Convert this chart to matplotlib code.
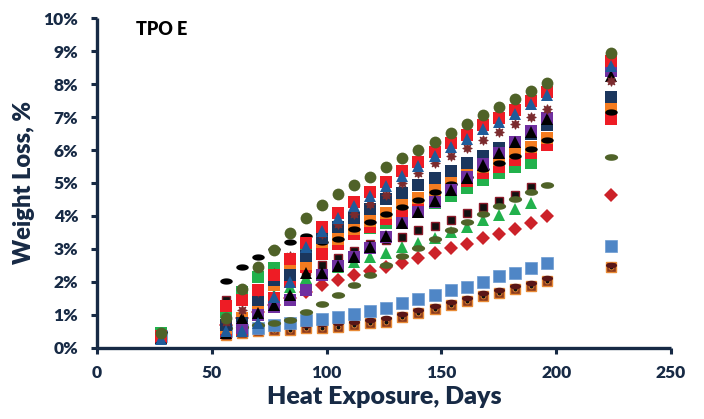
import numpy as np
import matplotlib
matplotlib.use("Agg")
import matplotlib.pyplot as plt
from matplotlib.path import Path

nan = np.nan
days = [28, 56, 63, 70, 77, 84, 91, 98, 105, 112, 119, 126, 133, 140, 147,
        154, 161, 168, 175, 182, 189, 196, 224]

olive_circle = [0.45, 0.90, 1.78, 2.46, 2.97, 3.47, 3.93, 4.33, 4.68, 4.94, 5.19, 5.48, 5.75, 6.00, 6.25, 6.52, 6.79, 7.05, 7.29, 7.54, 7.78, 8.04, 8.95]
red_sq = [0.35, 1.27, 1.45, 1.75, 2.20, 2.70, 3.17, 3.68, 4.08, 4.43, 4.74, 5.04, 5.35, 5.65, 5.95, 6.20, 6.45, 6.76, 6.97, 7.20, 7.50, 7.77, 8.70]
blue_tri = [0.28, 0.50, 0.50, 0.75, 1.53, 2.00, 3.05, 3.55, 3.95, 4.30, 4.62, 4.92, 5.22, 5.52, 5.82, 6.08, 6.33, 6.64, 6.86, 7.08, 7.38, 7.66, 8.55]
maroon_star = [nan, 0.80, 1.15, 1.70, 2.26, 2.80, 3.10, 3.45, 3.75, 4.05, 4.35, 4.65, 5.00, 5.30, 5.60, 5.82, 6.05, 6.30, 6.56, 6.79, 7.00, 7.24, 8.10]
navy_sq = [0.35, 0.70, 0.75, 1.45, 2.06, 2.20, 2.80, 3.32, 3.68, 3.95, 4.20, 4.50, 4.70, 4.95, 5.15, 5.37, 5.60, 5.82, 6.05, 6.25, 6.50, 6.76, 7.60]
orange_sq = [nan, 0.60, 0.90, 1.20, 1.90, 2.36, 2.56, 3.22, 3.30, 3.60, 3.85, 4.10, 4.35, 4.55, 4.80, 5.04, 5.25, 5.50, 5.70, 5.90, 6.10, 6.36, 7.30]
black_oval = [0.48, 2.04, 2.46, 2.75, 3.00, 3.22, 3.40, 3.20, 3.30, 3.60, 3.82, 4.05, 4.28, 4.48, 4.72, 4.98, 5.18, 5.42, 5.62, 5.82, 6.02, 6.30, 7.15]
red_sq2 = [0.30, 0.45, 0.50, 1.10, 1.50, 2.00, 2.45, 2.85, 3.15, 3.45, 3.68, 3.92, 4.15, 4.38, 4.60, 4.85, 5.05, 5.30, 5.50, 5.70, 5.90, 6.15, 6.95]
purple_sq = [nan, nan, 0.60, 1.00, 1.25, 1.45, 1.76, 2.20, 2.47, 2.75, 3.02, 3.37, 3.80, 4.12, 4.43, 4.79, 5.19, 5.58, 5.92, 6.25, 6.57, 6.98, 8.40]
black_tri = [0.30, 0.45, 0.90, 1.05, 1.30, 1.60, 2.26, 2.26, 2.47, 2.75, 3.05, 3.40, 3.80, 4.12, 4.45, 4.80, 5.15, 5.55, 5.90, 6.25, 6.55, 6.95, 8.25]
green_sq = [0.45, 1.10, 1.70, 2.16, 2.41, 2.60, 2.85, 3.10, 3.30, 3.50, 3.65, 3.78, 4.03, 4.20, 4.40, 4.60, 4.84, 5.09, 5.29, 5.50, 5.60, nan, nan]
olive_dash = [nan, 0.60, 0.65, 0.70, 0.75, 0.85, 1.08, 1.33, 1.60, 1.90, 2.20, 2.50, 2.79, 3.04, 3.30, 3.58, 3.81, 4.06, 4.29, 4.50, 4.74, 4.94, 5.80]
black_sq = [nan, 1.45, 1.55, 1.70, 1.90, 2.10, 2.34, 2.50, 2.72, 2.95, 3.15, 3.28, 3.37, 3.58, 3.70, 3.88, 4.08, 4.28, 4.44, 4.64, 4.87, nan, nan]
green_tri = [nan, 0.80, 1.00, 1.30, 1.60, 1.86, 2.12, 2.30, 2.45, 2.60, 2.75, 2.87, 3.05, 3.17, 3.32, 3.50, 3.66, 3.88, 4.03, 4.20, 4.38, nan, nan]
red_dia = [nan, 0.70, 0.90, 1.10, 1.30, 1.50, 1.70, 1.90, 2.06, 2.20, 2.32, 2.45, 2.58, 2.72, 2.87, 3.02, 3.15, 3.32, 3.46, 3.60, 3.78, 3.99, 4.65]
lblue_sq = [0.35, 0.50, 0.55, 0.60, 0.70, 0.75, 0.85, 0.88, 0.95, 1.03, 1.13, 1.22, 1.35, 1.47, 1.60, 1.76, 1.86, 2.00, 2.17, 2.26, 2.41, 2.57, 3.10]
brown_sq = [nan, 0.40, 0.45, 0.50, 0.55, 0.55, 0.60, 0.62, 0.65, 0.70, 0.75, 0.80, 0.93, 1.05, 1.17, 1.30, 1.43, 1.58, 1.68, 1.78, 1.88, 2.04, 2.45]
maroon_dash = [nan, 0.50, 0.55, 0.60, 0.65, 0.68, 0.70, 0.73, 0.76, 0.80, 0.85, 0.90, 1.02, 1.14, 1.26, 1.40, 1.52, 1.66, 1.77, 1.87, 1.97, 2.12, 2.52]

x_ticks = [0, 50, 100, 150, 200, 250]
y_ticks = [0, 1, 2, 3, 4, 5, 6, 7, 8, 9, 10]
y_tick_labels = [f"{v}%" for v in y_ticks]

plt.rcParams['font.family'] = ['Lato', 'DejaVu Sans']
navy = '#172A45'

# custom markers
th = np.linspace(0, 2 * np.pi, 60)
ellipse = Path(np.column_stack([np.cos(th), 0.5 * np.sin(th)]), closed=True)
r = 1 + 0.22 * np.cos(8 * th)
gear = Path(np.column_stack([r * np.cos(th), r * np.sin(th)]), closed=True)

fig = plt.figure(figsize=(7.04, 4.19), dpi=100)
ax = fig.add_axes([0.138, 0.1695, 0.815, 0.7875])

def pl(vals, marker, face, size, edge=None, ew=0.0, z=3):
    ax.plot(days, vals, linestyle='none', marker=marker, markersize=size,
            markerfacecolor=face, markeredgecolor=edge if edge else face,
            markeredgewidth=ew, zorder=z)

pl(brown_sq, 's', '#8B3A1E', 7.5, '#E88A35', 1.0)
pl(brown_sq, 'o', '#111111', 3.5, '#E88A35', 0.6)
pl(maroon_dash, ellipse, '#5A1616', 8)
pl(lblue_sq, 's', '#4F86C6', 8, '#6C9BD2', 0.5)
pl(red_dia, 'D', '#CC2229', 7)
pl(green_tri, '^', '#22B14C', 8.5)
pl(black_sq, 's', '#111111', 6, '#8B1A2A', 1.0)
pl(olive_dash, ellipse, '#4F6228', 9.5)
pl(green_sq, 's', '#22B14C', 8.5)
pl(red_sq2, 's', '#EE1C25', 8.5)
pl(orange_sq, 's', '#F47C20', 8.5)
pl(black_oval, ellipse, '#000000', 9)
pl(navy_sq, 's', '#1B365D', 8.5)
pl(purple_sq, 's', '#7030A0', 8.5)
pl(black_tri, '^', '#000000', 8.5)
pl(maroon_star, gear, '#7B2B2E', 7.5)
pl(red_sq, 's', '#EE1C25', 8.5)
pl(blue_tri, '^', '#1F5B9A', 8.5)
pl(olive_circle, 'o', '#4F6228', 8.5)

ax.set_xlim(0, 250)
ax.set_ylim(0, 10)
ax.set_xticks(x_ticks)
ax.set_xticklabels([str(v) for v in x_ticks])
ax.set_yticks(y_ticks)
ax.set_yticklabels(y_tick_labels)

for s in ['top', 'right']:
    ax.spines[s].set_visible(False)
for s in ['left', 'bottom']:
    ax.spines[s].set_color(navy)
    ax.spines[s].set_linewidth(2.4)
    ax.spines[s].set_capstyle('butt')

ax.tick_params(axis='both', direction='out', length=4.5, width=2.2, color=navy,
               labelcolor=navy, labelsize=12.5)
ax.tick_params(axis='x', pad=8)
ax.tick_params(axis='y', pad=9)
for lab in ax.get_xticklabels() + ax.get_yticklabels():
    lab.set_fontweight('heavy')

ax.set_xlabel('Heat Exposure, Days', fontsize=18, fontweight='heavy', color=navy, labelpad=3)
ax.set_ylabel('Weight Loss, %', fontsize=17, fontweight='heavy', color=navy, labelpad=6)

ax.text(17.0, 9.64, 'TPO E', fontsize=13, fontweight='heavy', color='#000000',
        va='center', ha='left')

fig.savefig('out.png', dpi=100)
